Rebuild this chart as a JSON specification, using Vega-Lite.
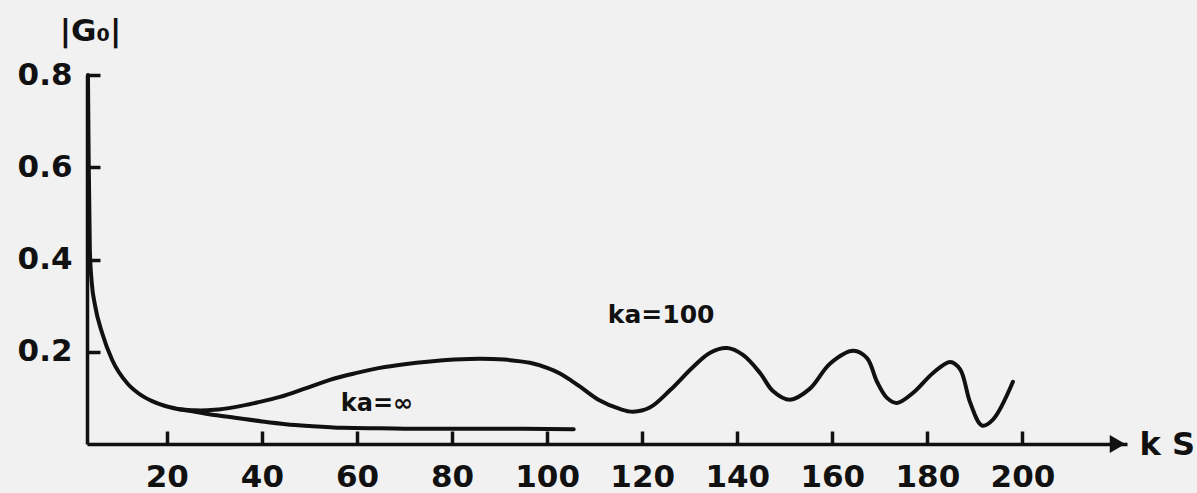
{
  "$schema": "https://vega.github.io/schema/vega-lite/v6.json",
  "width": 1040,
  "height": 369,
  "autosize": {"type": "none"},
  "padding": {"left": 87, "top": 75, "right": 70, "bottom": 49},
  "background": "#f1f1f1",
  "config": {
    "view": {"stroke": null},
    "font": "DejaVu Sans",
    "axis": {
      "grid": false,
      "domainColor": "#111111",
      "domainWidth": 3.5,
      "tickColor": "#111111",
      "tickWidth": 3.5,
      "tickSize": -13,
      "labelColor": "#111111",
      "labelFont": "DejaVu Sans",
      "labelFontSize": 31,
      "labelFontWeight": "bold",
      "titleColor": "#111111",
      "titleFont": "DejaVu Sans",
      "titleFontWeight": "bold"
    }
  },
  "datasets": {
    "curves": [
      {"series": "inf", "x": 3.4, "y": 0.8},
      {"series": "inf", "x": 3.55, "y": 0.62},
      {"series": "inf", "x": 3.8, "y": 0.42},
      {"series": "inf", "x": 4.2, "y": 0.35},
      {"series": "inf", "x": 4.9, "y": 0.3},
      {"series": "inf", "x": 6.4, "y": 0.24},
      {"series": "inf", "x": 8.5, "y": 0.182},
      {"series": "inf", "x": 11.8, "y": 0.13},
      {"series": "inf", "x": 14, "y": 0.11},
      {"series": "inf", "x": 16.9, "y": 0.093},
      {"series": "inf", "x": 19.5, "y": 0.083},
      {"series": "inf", "x": 22.3, "y": 0.076},
      {"series": "inf", "x": 25.9, "y": 0.07},
      {"series": "inf", "x": 30, "y": 0.063},
      {"series": "inf", "x": 34.3, "y": 0.057},
      {"series": "inf", "x": 40, "y": 0.049},
      {"series": "inf", "x": 45, "y": 0.043},
      {"series": "inf", "x": 50, "y": 0.039},
      {"series": "inf", "x": 57, "y": 0.035},
      {"series": "inf", "x": 65, "y": 0.034},
      {"series": "inf", "x": 75, "y": 0.033},
      {"series": "inf", "x": 85, "y": 0.033},
      {"series": "inf", "x": 95, "y": 0.033},
      {"series": "inf", "x": 105.6, "y": 0.032}
    ],
    "curve100": [
      {"series": "100", "x": 22.3, "y": 0.076},
      {"series": "100", "x": 25.9, "y": 0.073},
      {"series": "100", "x": 30, "y": 0.074},
      {"series": "100", "x": 34.3, "y": 0.08},
      {"series": "100", "x": 39, "y": 0.09},
      {"series": "100", "x": 43.8, "y": 0.102},
      {"series": "100", "x": 49, "y": 0.12},
      {"series": "100", "x": 54.3, "y": 0.139},
      {"series": "100", "x": 59.5, "y": 0.153},
      {"series": "100", "x": 64.8, "y": 0.165},
      {"series": "100", "x": 70, "y": 0.173},
      {"series": "100", "x": 75.4, "y": 0.179},
      {"series": "100", "x": 80.5, "y": 0.183},
      {"series": "100", "x": 85.9, "y": 0.185},
      {"series": "100", "x": 91, "y": 0.183},
      {"series": "100", "x": 96.4, "y": 0.176},
      {"series": "100", "x": 100, "y": 0.165},
      {"series": "100", "x": 102.7, "y": 0.153},
      {"series": "100", "x": 105, "y": 0.138},
      {"series": "100", "x": 107.5, "y": 0.12},
      {"series": "100", "x": 111, "y": 0.095},
      {"series": "100", "x": 115.3, "y": 0.076},
      {"series": "100", "x": 118.1, "y": 0.07},
      {"series": "100", "x": 121.6, "y": 0.079},
      {"series": "100", "x": 125.9, "y": 0.117},
      {"series": "100", "x": 130.7, "y": 0.167},
      {"series": "100", "x": 134.3, "y": 0.198},
      {"series": "100", "x": 137.9, "y": 0.208},
      {"series": "100", "x": 141.2, "y": 0.193},
      {"series": "100", "x": 144.8, "y": 0.154},
      {"series": "100", "x": 147.5, "y": 0.115},
      {"series": "100", "x": 151.1, "y": 0.096},
      {"series": "100", "x": 155.3, "y": 0.12},
      {"series": "100", "x": 159.5, "y": 0.174},
      {"series": "100", "x": 164.4, "y": 0.202},
      {"series": "100", "x": 167.3, "y": 0.186},
      {"series": "100", "x": 169.4, "y": 0.135},
      {"series": "100", "x": 171.5, "y": 0.1},
      {"series": "100", "x": 173.6, "y": 0.089},
      {"series": "100", "x": 177, "y": 0.111},
      {"series": "100", "x": 181.2, "y": 0.154},
      {"series": "100", "x": 184.8, "y": 0.178},
      {"series": "100", "x": 186.9, "y": 0.162},
      {"series": "100", "x": 189, "y": 0.09},
      {"series": "100", "x": 191.5, "y": 0.04},
      {"series": "100", "x": 193.8, "y": 0.053},
      {"series": "100", "x": 198, "y": 0.135}
    ],
    "labels": [
      {"x": 64.2, "y": 0.087, "text": "ka=∞", "size": 24},
      {"x": 124.0, "y": 0.28, "text": "ka=100", "size": 25}
    ],
    "arrow": [
      {"x": 220, "y": 0}
    ]
  },
  "layer": [
    {
      "data": {"name": "curves"},
      "mark": {"type": "line", "color": "#111111", "strokeWidth": 4, "interpolate": "monotone", "strokeCap": "round"},
      "encoding": {
        "x": {
          "field": "x", "type": "quantitative",
          "scale": {"domain": [3.2, 222], "nice": false, "zero": false},
          "axis": {
            "values": [20, 40, 60, 80, 100, 120, 140, 160, 180, 200],
            "labelPadding": 31,
            "labelFlush": false,
            "title": "k S",
            "titleFontSize": 32,
            "titleX": 1052,
            "titleY": 0,
            "titleAlign": "left",
            "titleBaseline": "middle",
            "titleAnchor": null
          }
        },
        "y": {
          "field": "y", "type": "quantitative",
          "scale": {"domain": [0, 0.8], "nice": false},
          "axis": {
            "values": [0.2, 0.4, 0.6, 0.8],
            "format": ".1f",
            "labelPadding": 28,
            "labelFlush": false,
            "title": "|G₀|",
            "titleFontSize": 31,
            "titleAngle": 0,
            "titleX": 3,
            "titleY": -44,
            "titleAlign": "center",
            "titleBaseline": "middle"
          }
        }
      }
    },
    {
      "data": {"name": "curve100"},
      "mark": {"type": "line", "color": "#111111", "strokeWidth": 4, "interpolate": "catmull-rom", "strokeCap": "round"},
      "encoding": {
        "x": {"field": "x", "type": "quantitative"},
        "y": {"field": "y", "type": "quantitative"}
      }
    },
    {
      "data": {"name": "labels"},
      "mark": {"type": "text", "color": "#111111", "font": "DejaVu Sans", "fontWeight": "bold", "align": "center", "baseline": "middle"},
      "encoding": {
        "x": {"field": "x", "type": "quantitative"},
        "y": {"field": "y", "type": "quantitative"},
        "text": {"field": "text"},
        "size": {"field": "size", "type": "quantitative", "scale": null}
      }
    },
    {
      "data": {"name": "arrow"},
      "mark": {"type": "point", "shape": "triangle-right", "filled": true, "color": "#111111", "size": 320, "opacity": 1},
      "encoding": {
        "x": {"field": "x", "type": "quantitative"},
        "y": {"field": "y", "type": "quantitative"}
      }
    }
  ]
}
